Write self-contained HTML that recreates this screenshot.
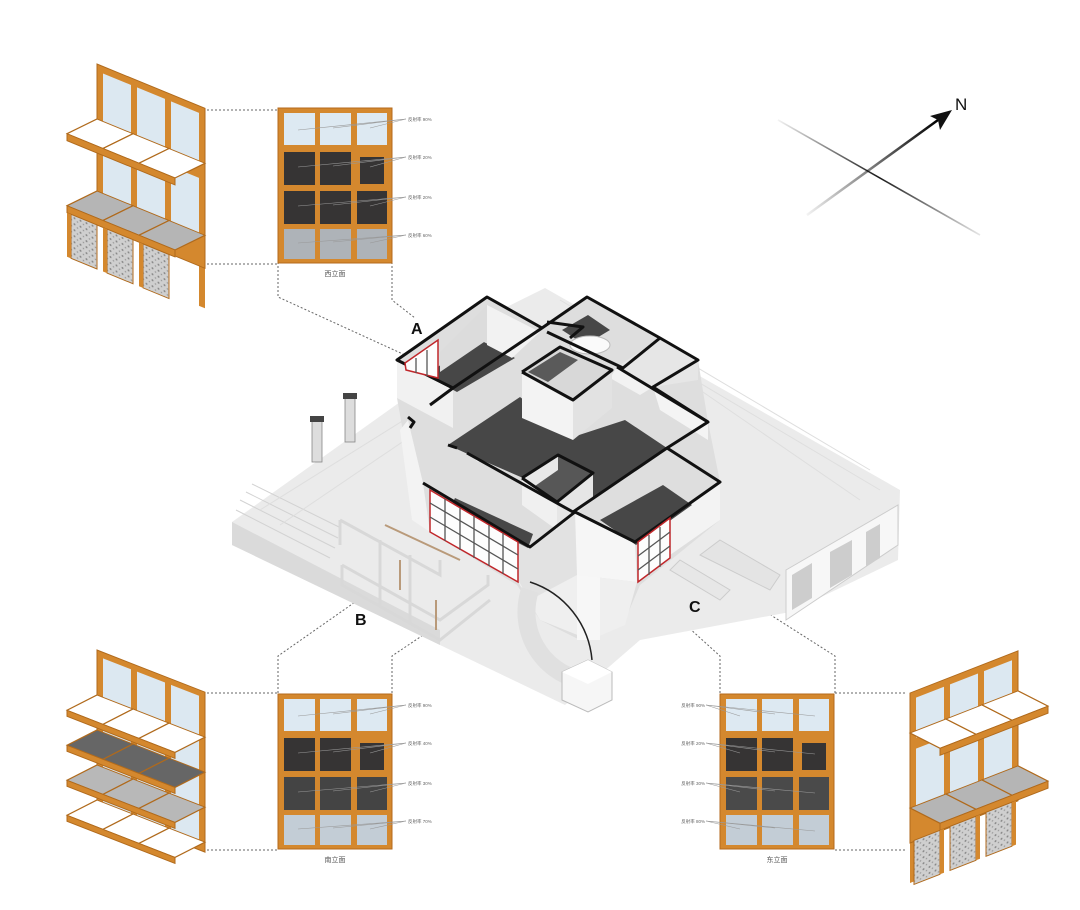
<!DOCTYPE html>
<html><head><meta charset="utf-8">
<style>
html,body{margin:0;padding:0;background:#fff;}
svg{display:block;}
text{font-family:"Liberation Sans","Noto Sans CJK SC",sans-serif;}
</style></head>
<body>
<svg width="1080" height="910" viewBox="0 0 1080 910" xmlns="http://www.w3.org/2000/svg">
<defs>
  <linearGradient id="g1" x1="0" y1="0" x2="1" y2="0">
    <stop offset="0" stop-color="#000" stop-opacity="0.05"/>
    <stop offset="0.5" stop-color="#000" stop-opacity="0.9"/>
    <stop offset="1" stop-color="#000" stop-opacity="0.1"/>
  </linearGradient>
  <linearGradient id="g2" x1="0" y1="0" x2="1" y2="0">
    <stop offset="0" stop-color="#000" stop-opacity="0.05"/>
    <stop offset="1" stop-color="#000" stop-opacity="1"/>
  </linearGradient>
  <pattern id="conc" width="6" height="6" patternUnits="userSpaceOnUse">
    <rect width="6" height="6" fill="#cfcfcf"/>
    <circle cx="1.5" cy="1.5" r="1" fill="#888"/>
    <circle cx="4.5" cy="4" r="0.8" fill="#999"/>
  </pattern>
  <g id="mull">
    <rect x="0" y="0" width="114" height="155" fill="#d4882e"/>
    <rect x="0" y="0" width="114" height="155" fill="none" stroke="#b46a1c" stroke-width="1"/>
  </g>
</defs>

<!-- Compass -->
<line x1="778" y1="120" x2="980" y2="235" stroke="url(#g1)" stroke-width="1.6"/>
<line x1="807" y1="215" x2="938" y2="120" stroke="url(#g2)" stroke-width="2.5"/>
<polygon points="952,110 930,116 938,120 940,130" fill="#111"/>
<text x="955" y="110" font-size="17" fill="#111">N</text>

<!-- Dotted connectors -->
<g stroke="#666" stroke-width="1" stroke-dasharray="2,2" fill="none">
  <line x1="207" y1="110" x2="278" y2="110"/>
  <line x1="207" y1="264" x2="278" y2="264"/>
  <polyline points="278,262 278,297 405,355"/>
  <polyline points="392,262 392,300 415,318"/>
  <line x1="207" y1="693" x2="278" y2="693"/>
  <line x1="207" y1="850" x2="278" y2="850"/>
  <polyline points="278,693 278,656 358,600"/>
  <polyline points="392,693 392,656 490,590"/>
  <polyline points="720,693 720,656 645,588"/>
  <polyline points="835,693 835,656 708,575"/>
  <line x1="835" y1="693" x2="905" y2="693"/>
  <line x1="835" y1="850" x2="905" y2="850"/>
</g>

<!-- ================= HOUSE ================= -->
<polygon points="232,522 400,402 400,360 545,288 900,490 898,560 790,612 640,640 565,705 440,645 232,545" fill="#ebebeb"/>
<polygon points="232,522 232,545 440,645 440,630" fill="#dadada"/>
<g stroke="#d2d2d2" stroke-width="1" fill="none">
  <line x1="240" y1="500" x2="335" y2="548"/>
  <line x1="246" y1="492" x2="338" y2="538"/>
  <line x1="252" y1="484" x2="341" y2="528"/>
  <line x1="236" y1="510" x2="330" y2="558"/>
</g>
<g stroke="#dedede" stroke-width="1">
  <line x1="560" y1="300" x2="880" y2="490"/>
  <line x1="600" y1="310" x2="870" y2="470"/>
  <line x1="700" y1="390" x2="860" y2="500"/>
  <line x1="260" y1="510" x2="420" y2="410"/>
  <line x1="280" y1="525" x2="420" y2="430"/>
</g>
<polygon points="786,570 898,505 898,545 786,620" fill="#f7f7f7" stroke="#ccc"/>
<g fill="#cdcdcd">
  <polygon points="792,575 812,563 812,598 792,610"/>
  <polygon points="830,552 852,540 852,575 830,588"/>
  <polygon points="866,532 880,524 880,558 866,566"/>
</g>
<polygon points="720,540 780,575 770,590 700,555" fill="#e4e4e4" stroke="#ccc"/>
<polygon points="680,560 730,590 720,600 670,570" fill="#e7e7e7" stroke="#ccc"/>

<!-- chimneys -->
<rect x="312" y="420" width="10" height="42" fill="#ddd" stroke="#888" stroke-width="0.8"/>
<rect x="310" y="416" width="14" height="6" fill="#444"/>
<rect x="345" y="398" width="10" height="44" fill="#ddd" stroke="#888" stroke-width="0.8"/>
<rect x="343" y="393" width="14" height="6" fill="#444"/>

<!-- house mass -->
<polygon points="397,360 487,297 542,328 587,297 698,360 708,422 720,482 720,520 640,585 625,620 580,640 540,620 517,585 430,532 408,460 397,398" fill="#dedede"/>
<polygon points="517,580 577,575 637,582 625,625 590,640 540,620" fill="#efefef"/>
<polygon points="577,575 600,570 600,640 577,640" fill="#f7f7f7"/>
<polygon points="397,360 453,388 453,428 397,398" fill="#f1f1f1"/>
<polygon points="408,420 423,483 430,532 412,520 400,430" fill="#f3f3f3"/>
<polygon points="518,542 530,547 575,512 577,575 530,600 518,580" fill="#e2e2e2"/>
<polygon points="575,512 635,542 637,582 577,575" fill="#f6f6f6"/>
<polygon points="670,518 720,482 720,520 670,555" fill="#f3f3f3"/>
<polygon points="653,387 708,422 708,440 660,410" fill="#f4f4f4"/>
<!-- interior light wall faces -->
<polygon points="470,455 520,397 520,425 478,462" fill="#f5f5f5"/>
<polygon points="625,420 667,448 660,455 625,432" fill="#f5f5f5"/>
<polygon points="617,367 653,387 640,395 610,378" fill="#f2f2f2"/>

<!-- dark floors -->
<g fill="#474747">
  <polygon points="448,445 520,397 573,437 625,420 667,448 573,512 523,478 470,455"/>
  <polygon points="425,375 480,340 515,358 457,392"/>
  <polygon points="600,520 663,485 692,505 636,545"/>
  <polygon points="455,498 533,534 528,548 450,508"/>
  <polygon points="562,330 588,315 610,330 585,345"/>
</g>
<polygon points="487,345 487,305 540,332 512,358" fill="#f2f2f2"/>
<polygon points="440,372 440,352 487,305 487,340" fill="#dcdcdc"/>
<polygon points="617,367 660,338 698,360 698,380 653,387" fill="#e6e6e6"/>
<!-- box 1 -->
<polygon points="522,372 573,400 573,440 522,418" fill="#f3f3f3"/>
<polygon points="573,400 612,370 612,408 573,440" fill="#e2e2e2"/>
<polygon points="522,372 560,347 612,370 573,400" fill="#d8d8d8"/>
<polygon points="528,372 560,352 578,360 548,382" fill="#5a5a5a"/>
<ellipse cx="590" cy="345" rx="20" ry="9" fill="#fafafa" stroke="#bbb"/>
<!-- box 2 -->
<polygon points="522,478 557,502 557,530 522,505" fill="#f0f0f0"/>
<polygon points="557,502 593,473 593,500 557,530" fill="#e6e6e6"/>
<polygon points="522,478 558,455 593,473 557,502" fill="#575757"/>
<polygon points="522,478 558,455 558,470 535,486" fill="#e8e8e8"/>

<!-- black walls -->
<g fill="none" stroke="#111" stroke-width="3" stroke-linejoin="round">
  <polyline points="423,483 530,547 575,512 635,542 720,482 667,448 708,422 653,387 698,360 660,338 587,297 542,328 487,297 397,360 453,388 542,328"/>
  <polyline points="453,388 430,405"/>
  <polyline points="547,332 623,368 660,338"/>
  <polyline points="617,367 708,422"/>
  <polyline points="667,448 573,512"/>
  <polyline points="467,453 573,512"/>
  <polyline points="457,448 448,445"/>
  <polyline points="522,372 560,347 612,370 573,400 522,372"/>
  <polyline points="522,478 558,455 593,473 557,502 522,478"/>
  <polyline points="547,322 583,327 570,338"/>
  <polyline points="408,417 414,422 410,428"/>
</g>

<!-- red windows -->
<g stroke="#c0262a" stroke-width="1.5" fill="#fdfdfd">
  <polygon points="405,363 438,340 438,378 406,370"/>
  <polygon points="430,490 518,542 518,582 430,532"/>
  <polygon points="638,542 670,518 670,558 638,582"/>
</g>
<g stroke="#555" stroke-width="1.3" fill="none">
  <line x1="416" y1="358" x2="416" y2="373"/><line x1="427" y1="350" x2="427" y2="376"/>
  <line x1="430" y1="503" x2="518" y2="555"/><line x1="430" y1="517" x2="518" y2="569"/>
  <line x1="445" y1="499" x2="445" y2="541"/><line x1="460" y1="508" x2="460" y2="550"/><line x1="474" y1="516" x2="474" y2="558"/><line x1="489" y1="525" x2="489" y2="566"/><line x1="503" y1="533" x2="503" y2="574"/>
  <line x1="649" y1="535" x2="649" y2="575"/><line x1="660" y1="527" x2="660" y2="567"/>
  <line x1="638" y1="556" x2="670" y2="532"/><line x1="638" y1="570" x2="670" y2="546"/>
</g>

<!-- railings B -->
<g stroke="#d8d8d8" stroke-width="3" fill="none">
  <polyline points="340,520 440,575 440,560"/>
  <polyline points="340,520 340,545"/>
  <polyline points="342,565 440,620 488,585 488,575"/>
  <polyline points="342,565 342,585 440,640 490,600"/>
  <line x1="380" y1="540" x2="380" y2="605"/>
  <line x1="410" y1="555" x2="410" y2="625"/>
</g>
<g stroke="#b99a7a" stroke-width="2">
  <line x1="385" y1="525" x2="460" y2="560"/>
  <line x1="400" y1="560" x2="400" y2="590"/>
  <line x1="436" y1="600" x2="436" y2="630"/>
</g>

<!-- spiral stair & box -->
<path d="M530,590 A70,70 0 0 0 580,680" fill="none" stroke="#e0e0e0" stroke-width="18"/>
<path d="M530,582 A90,90 0 0 1 592,660" fill="none" stroke="#222" stroke-width="1.5"/>
<polygon points="562,672 588,660 612,672 612,700 588,712 562,700" fill="#f6f6f6" stroke="#bbb"/>
<polygon points="562,672 588,660 612,672 588,684" fill="#fff"/>

<text x="411" y="334" font-size="16" font-weight="bold" fill="#111">A</text>
<text x="355" y="625" font-size="16" font-weight="bold" fill="#111">B</text>
<text x="689" y="612" font-size="16" font-weight="bold" fill="#111">C</text>

<!-- ================= ELEVATIONS ================= -->
<g transform="translate(278,108)">
  <use href="#mull"/>
  <g fill="#dde9f2"><rect x="6" y="5" width="31" height="32"/><rect x="42" y="5" width="31" height="32"/><rect x="79" y="5" width="30" height="32"/></g>
  <g fill="#363434"><rect x="6" y="44" width="31" height="33"/><rect x="42" y="44" width="31" height="33"/><rect x="82" y="49" width="24" height="27"/>
  <rect x="6" y="83" width="31" height="33"/><rect x="42" y="83" width="31" height="33"/><rect x="79" y="83" width="30" height="33"/></g>
  <g fill="#aeb3b8"><rect x="6" y="121" width="31" height="30"/><rect x="42" y="121" width="31" height="30"/><rect x="79" y="121" width="30" height="30"/></g>
  <g stroke="#999" stroke-width="0.6">
    <line x1="20" y1="22" x2="128" y2="11"/><line x1="55" y1="20" x2="128" y2="11"/><line x1="92" y1="20" x2="128" y2="11"/>
    <line x1="20" y1="59" x2="128" y2="49"/><line x1="55" y1="58" x2="128" y2="49"/><line x1="92" y1="59" x2="128" y2="49"/>
    <line x1="20" y1="98" x2="128" y2="89"/><line x1="55" y1="97" x2="128" y2="89"/><line x1="92" y1="98" x2="128" y2="89"/>
    <line x1="20" y1="135" x2="128" y2="127"/><line x1="55" y1="134" x2="128" y2="127"/><line x1="92" y1="135" x2="128" y2="127"/>
  </g>
  <g font-size="4.5" fill="#666"><text x="130" y="13">反射率 90%</text><text x="130" y="51">反射率 20%</text><text x="130" y="91">反射率 20%</text><text x="130" y="129">反射率 60%</text></g>
  <text x="57" y="168" font-size="7" fill="#555" text-anchor="middle">西立面</text>
</g>

<g transform="translate(278,694)">
  <use href="#mull"/>
  <g fill="#dde9f2"><rect x="6" y="5" width="31" height="32"/><rect x="42" y="5" width="31" height="32"/><rect x="79" y="5" width="30" height="32"/></g>
  <g fill="#363434"><rect x="6" y="44" width="31" height="33"/><rect x="42" y="44" width="31" height="33"/><rect x="82" y="49" width="24" height="27"/></g>
  <g fill="#444"><rect x="6" y="83" width="31" height="33"/><rect x="42" y="83" width="31" height="33"/><rect x="79" y="83" width="30" height="33"/></g>
  <g fill="#c3cdd6"><rect x="6" y="121" width="31" height="30"/><rect x="42" y="121" width="31" height="30"/><rect x="79" y="121" width="30" height="30"/></g>
  <g stroke="#999" stroke-width="0.6">
    <line x1="20" y1="22" x2="128" y2="11"/><line x1="55" y1="20" x2="128" y2="11"/><line x1="92" y1="20" x2="128" y2="11"/>
    <line x1="20" y1="59" x2="128" y2="49"/><line x1="55" y1="58" x2="128" y2="49"/><line x1="92" y1="59" x2="128" y2="49"/>
    <line x1="20" y1="98" x2="128" y2="89"/><line x1="55" y1="97" x2="128" y2="89"/><line x1="92" y1="98" x2="128" y2="89"/>
    <line x1="20" y1="135" x2="128" y2="127"/><line x1="55" y1="134" x2="128" y2="127"/><line x1="92" y1="135" x2="128" y2="127"/>
  </g>
  <g font-size="4.5" fill="#666"><text x="130" y="13">反射率 90%</text><text x="130" y="51">反射率 40%</text><text x="130" y="91">反射率 30%</text><text x="130" y="129">反射率 70%</text></g>
  <text x="57" y="168" font-size="7" fill="#555" text-anchor="middle">南立面</text>
</g>

<g transform="translate(720,694)">
  <use href="#mull"/>
  <g fill="#dde9f2"><rect x="6" y="5" width="31" height="32"/><rect x="42" y="5" width="31" height="32"/><rect x="79" y="5" width="30" height="32"/></g>
  <g fill="#363434"><rect x="6" y="44" width="31" height="33"/><rect x="42" y="44" width="31" height="33"/><rect x="82" y="49" width="24" height="27"/></g>
  <g fill="#4a4a4a"><rect x="6" y="83" width="31" height="33"/><rect x="42" y="83" width="31" height="33"/><rect x="79" y="83" width="30" height="33"/></g>
  <g fill="#c3cdd6"><rect x="6" y="121" width="31" height="30"/><rect x="42" y="121" width="31" height="30"/><rect x="79" y="121" width="30" height="30"/></g>
  <g stroke="#999" stroke-width="0.6">
    <line x1="-14" y1="11" x2="20" y2="22"/><line x1="-14" y1="11" x2="55" y2="20"/><line x1="-14" y1="11" x2="95" y2="22"/>
    <line x1="-14" y1="49" x2="20" y2="59"/><line x1="-14" y1="49" x2="55" y2="58"/><line x1="-14" y1="49" x2="95" y2="60"/>
    <line x1="-14" y1="89" x2="20" y2="98"/><line x1="-14" y1="89" x2="55" y2="97"/><line x1="-14" y1="89" x2="95" y2="99"/>
    <line x1="-14" y1="127" x2="20" y2="135"/><line x1="-14" y1="127" x2="55" y2="134"/><line x1="-14" y1="127" x2="95" y2="137"/>
  </g>
  <g font-size="4.5" fill="#666" text-anchor="end"><text x="-15" y="13">反射率 90%</text><text x="-15" y="51">反射率 20%</text><text x="-15" y="91">反射率 30%</text><text x="-15" y="129">反射率 80%</text></g>
  <text x="57" y="168" font-size="7" fill="#555" text-anchor="middle">东立面</text>
</g>

<!-- ================= AXON FACADES ================= -->
<g transform="translate(97,64) matrix(1,0.41,0,1,0,0)">
  <rect x="0" y="0" width="108" height="160" fill="#d4882e"/>
  <rect x="102" y="0" width="6" height="200" fill="#d4882e"/>
  <g fill="#dce8f1">
    <rect x="6" y="7" width="28" height="48"/><rect x="40" y="7" width="28" height="48"/><rect x="74" y="7" width="28" height="48"/>
    <rect x="6" y="72" width="28" height="55"/><rect x="40" y="72" width="28" height="55"/><rect x="74" y="72" width="28" height="55"/>
  </g>
  <rect x="0" y="0" width="108" height="160" fill="none" stroke="#b06a1c" stroke-width="1"/>
  <g stroke="#b06a1c" stroke-width="1">
    <polygon points="0,55 36,55 6,82 -30,82" fill="#fff"/>
    <polygon points="36,55 72,55 42,82 6,82" fill="#fff"/>
    <polygon points="72,55 108,55 78,82 42,82" fill="#fff"/>
    <polygon points="-30,82 78,82 78,89 -30,89" fill="#d4882e"/>
    <polygon points="0,127 36,127 6,154 -30,154" fill="#b5b5b5"/>
    <polygon points="36,127 72,127 42,154 6,154" fill="#b5b5b5"/>
    <polygon points="72,127 108,127 78,154 42,154" fill="#b5b5b5"/>
    <polygon points="-30,154 78,154 78,161 -30,161" fill="#d4882e"/>
  </g>
  <g fill="url(#conc)" stroke="#b06a1c" stroke-width="1">
    <rect x="-26" y="161" width="26" height="44"/><rect x="10" y="161" width="26" height="44"/><rect x="46" y="161" width="26" height="44"/>
  </g>
  <g fill="#d4882e"><rect x="-30" y="161" width="4" height="44"/><rect x="6" y="161" width="4" height="44"/><rect x="42" y="161" width="4" height="44"/></g>
</g>

<g transform="translate(97,650) matrix(1,0.39,0,1,0,0)">
  <rect x="0" y="0" width="108" height="160" fill="#d4882e"/>
  <g fill="#dce8f1">
    <rect x="6" y="6" width="28" height="150"/><rect x="40" y="6" width="28" height="150"/><rect x="74" y="6" width="28" height="150"/>
  </g>
  <rect x="0" y="0" width="108" height="160" fill="none" stroke="#b06a1c"/>
  <g stroke="#b06a1c" stroke-width="1">
    <polygon points="0,45 36,45 6,72 -30,72" fill="#fff"/><polygon points="36,45 72,45 42,72 6,72" fill="#fff"/><polygon points="72,45 108,45 78,72 42,72" fill="#fff"/>
    <polygon points="-30,72 78,72 78,78 -30,78" fill="#d4882e"/>
    <polygon points="0,80 36,80 6,107 -30,107" fill="#666"/><polygon points="36,80 72,80 42,107 6,107" fill="#666"/><polygon points="72,80 108,80 78,107 42,107" fill="#666"/>
    <polygon points="-30,107 78,107 78,113 -30,113" fill="#d4882e"/>
    <polygon points="0,115 36,115 6,142 -30,142" fill="#b8b8b8"/><polygon points="36,115 72,115 42,142 6,142" fill="#b8b8b8"/><polygon points="72,115 108,115 78,142 42,142" fill="#b8b8b8"/>
    <polygon points="-30,142 78,142 78,148 -30,148" fill="#d4882e"/>
    <polygon points="0,150 36,150 6,177 -30,177" fill="#fff"/><polygon points="36,150 72,150 42,177 6,177" fill="#fff"/><polygon points="72,150 108,150 78,177 42,177" fill="#fff"/>
    <polygon points="-30,177 78,177 78,183 -30,183" fill="#d4882e"/>
  </g>
</g>

<g transform="translate(910,693) matrix(1,-0.39,0,1,0,0)">
  <rect x="0" y="0" width="108" height="150" fill="#d4882e"/>
  <rect x="0" y="0" width="6" height="190" fill="#d4882e"/>
  <g fill="#dce8f1">
    <rect x="6" y="7" width="28" height="40"/><rect x="40" y="7" width="28" height="40"/><rect x="74" y="7" width="28" height="40"/>
    <rect x="6" y="58" width="28" height="60"/><rect x="40" y="58" width="28" height="60"/><rect x="74" y="58" width="28" height="60"/>
  </g>
  <rect x="0" y="0" width="108" height="150" fill="none" stroke="#b06a1c"/>
  <g stroke="#b06a1c" stroke-width="1">
    <polygon points="0,40 36,40 66,67 30,67" fill="#fff"/><polygon points="36,40 72,40 102,67 66,67" fill="#fff"/><polygon points="72,40 108,40 138,67 102,67" fill="#fff"/>
    <polygon points="30,67 138,67 138,74 30,74" fill="#d4882e"/>
    <polygon points="0,115 36,115 66,142 30,142" fill="#b5b5b5"/><polygon points="36,115 72,115 102,142 66,142" fill="#b5b5b5"/><polygon points="72,115 108,115 138,142 102,142" fill="#b5b5b5"/>
    <polygon points="30,142 138,142 138,149 30,149" fill="#d4882e"/>
  </g>
  <g fill="url(#conc)" stroke="#b06a1c" stroke-width="1">
    <rect x="4" y="149" width="26" height="44"/><rect x="40" y="149" width="26" height="44"/><rect x="76" y="149" width="26" height="44"/>
  </g>
  <g fill="#d4882e"><rect x="30" y="149" width="4" height="44"/><rect x="66" y="149" width="4" height="44"/><rect x="102" y="149" width="4" height="44"/></g>
</g>
</svg>
</body></html>
